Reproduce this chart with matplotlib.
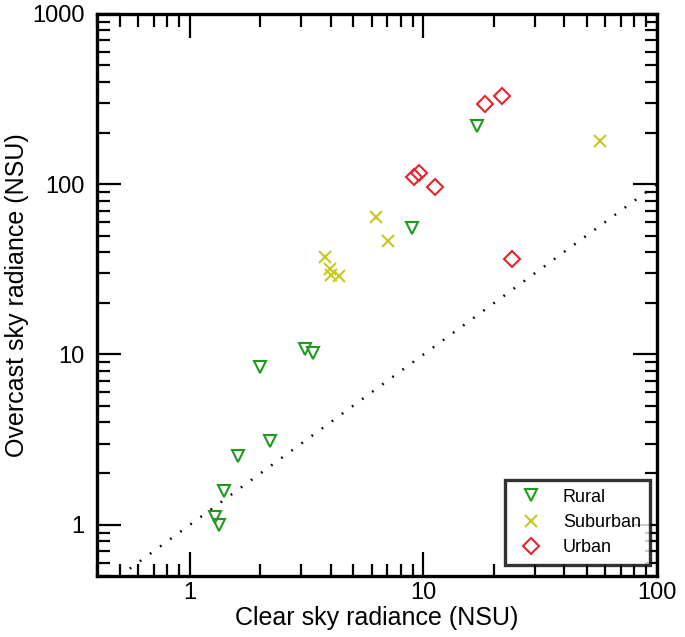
import matplotlib

matplotlib.use("Agg")
import matplotlib.pyplot as plt
from matplotlib.ticker import LogLocator, NullFormatter, FixedLocator, FixedFormatter
import numpy as np

# ---- data ------------------------------------------------------------------
rural_clear = [16.9, 8.9, 3.12, 3.36, 2.0, 2.2, 1.6, 1.40, 1.28, 1.33]
rural_overcast = [219, 55.6, 10.7, 10.2, 8.5, 3.12, 2.55, 1.57, 1.11, 0.99]

suburban_clear = [57.1, 6.27, 7.05, 3.79, 3.98, 4.02, 4.33]
suburban_overcast = [180, 64.2, 46.4, 37.3, 31.6, 29.2, 28.9]

urban_clear = [18.3, 21.6, 9.15, 9.57, 11.2, 23.9]
urban_overcast = [298, 331, 111, 117, 95.7, 36.2]

one_to_one = [0.5, 100]

GREEN = "#1f9a1f"
YELLOW = "#c9c91e"
RED = "#e8232b"

plt.rcParams["font.family"] = ["Liberation Sans", "DejaVu Sans"]

fig = plt.figure(figsize=(6.85, 6.37), dpi=100)
ax = fig.add_axes((97 / 685, 1 - 576 / 637, 560 / 685, 562 / 637))

ax.set_xscale("log")
ax.set_yscale("log")
ax.set_xlim(0.4, 100)
ax.set_ylim(0.5, 1000)

# 1:1 reference line
ax.plot(one_to_one, one_to_one, color="black", lw=1.8, ls=(0, (0.7, 4.3)), zorder=1)

ax.plot(rural_clear, rural_overcast, ls="none", marker="v", ms=9, mfc="none",
        mec=GREEN, mew=1.5, label="Rural", zorder=3)
ax.plot(suburban_clear, suburban_overcast, ls="none", marker="x", ms=9,
        mec=YELLOW, mew=1.5, label="Suburban", zorder=3)
ax.plot(urban_clear, urban_overcast, ls="none", marker="D", ms=8.5, mfc="none",
        mec=RED, mew=1.5, label="Urban", zorder=3)

# ticks: inward on all four sides
ax.xaxis.set_major_locator(FixedLocator([1, 10, 100]))
ax.xaxis.set_major_formatter(FixedFormatter(["1", "10", "100"]))
ax.yaxis.set_major_locator(FixedLocator([1, 10, 100, 1000]))
ax.yaxis.set_major_formatter(FixedFormatter(["1", "10", "100", "1000"]))
ax.xaxis.set_minor_locator(LogLocator(base=10, subs=np.arange(2, 10), numticks=20))
ax.yaxis.set_minor_locator(LogLocator(base=10, subs=np.arange(2, 10), numticks=20))
ax.xaxis.set_minor_formatter(NullFormatter())
ax.yaxis.set_minor_formatter(NullFormatter())
ax.tick_params(which="both", direction="in", top=True, right=True, width=1.6, colors="black")
ax.tick_params(which="major", length=17, labelsize=17)
ax.tick_params(axis="x", which="major", pad=4)
ax.tick_params(axis="y", which="major", pad=9)
ax.tick_params(which="minor", length=9)
for s in ax.spines.values():
    s.set_linewidth(2.4)

ax.set_xlabel("Clear sky radiance (NSU)", fontsize=18)
ax.set_ylabel("Overcast sky radiance (NSU)", fontsize=18)
ax.xaxis.set_label_coords(0.5, -0.054)
ax.yaxis.set_label_coords(-0.122, 0.5)

leg = ax.legend(loc="lower right", bbox_to_anchor=(0.9875, 0.0196), borderaxespad=0,
                fontsize=13, frameon=True, fancybox=False, edgecolor="black",
                borderpad=0.5, handlelength=1.9, handletextpad=0.8, labelspacing=0.45)
leg.get_frame().set_linewidth(2.4)

fig.savefig("out.png", dpi=100, facecolor="white")
